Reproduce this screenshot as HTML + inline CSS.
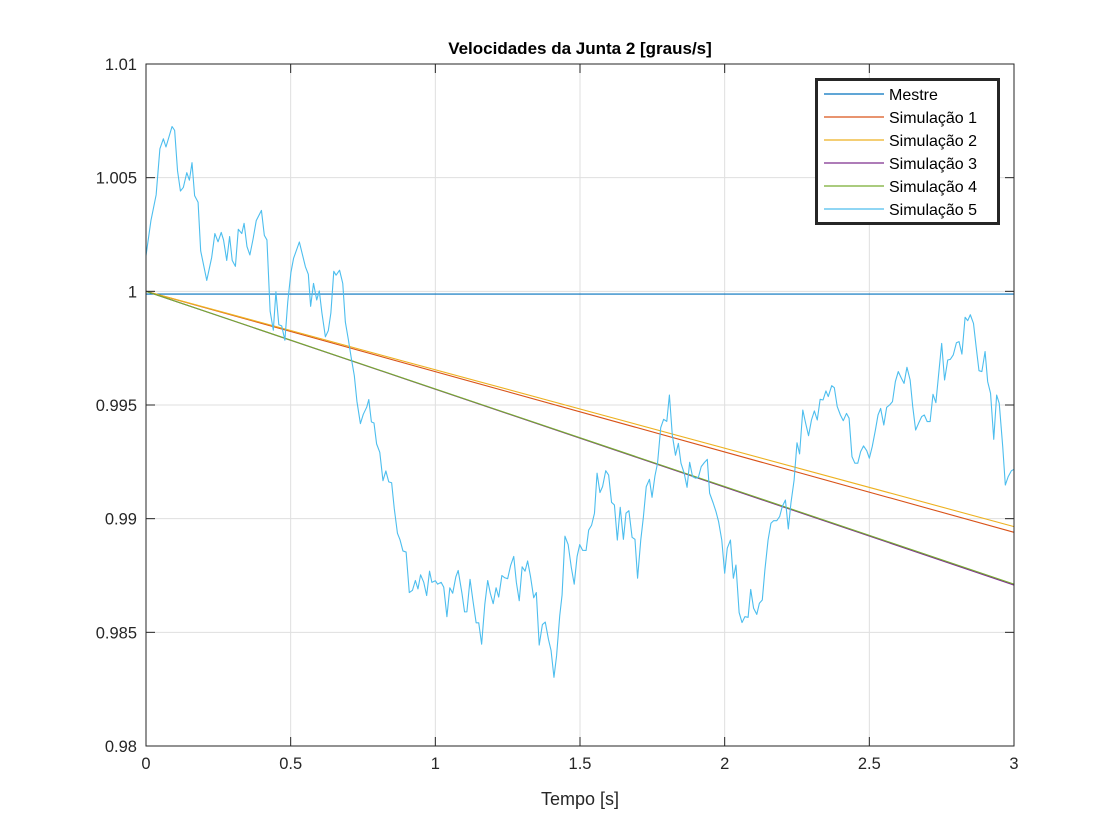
<!DOCTYPE html>
<html><head><meta charset="utf-8"><style>
html,body{margin:0;padding:0;background:#fff;}
svg{display:block;font-family:"Liberation Sans",Arial,sans-serif;}
</style></head><body>
<svg id="chart" width="1120" height="840" viewBox="0 0 1120 840" xmlns="http://www.w3.org/2000/svg">
<rect x="0" y="0" width="1120" height="840" fill="#fff"/>
<g id="grid"></g>
<g id="series"></g>
<g id="axes"></g>
<text x="580" y="54" text-anchor="middle" font-size="17" font-weight="bold" fill="#000">Velocidades da Junta 2 [graus/s]</text>
<text x="580" y="805" text-anchor="middle" font-size="18" fill="#262626">Tempo [s]</text>
<g id="legend"></g>
</svg>
<script>
const xTicks = [0, 0.5, 1, 1.5, 2, 2.5, 3];
const xTickLabels = ["0", "0.5", "1", "1.5", "2", "2.5", "3"];
const yTicks = [0.98, 0.985, 0.99, 0.995, 1, 1.005, 1.01];
const yTickLabels = ["0.98", "0.985", "0.99", "0.995", "1", "1.005", "1.01"];
const seriesNames = ["Mestre", "Simulação 1", "Simulação 2", "Simulação 3", "Simulação 4", "Simulação 5"];
const seriesColors = ["#0072BD", "#D95319", "#EDB120", "#7E2F8E", "#77AC30", "#4DBEEE"];
const lineTimes = [0, 3];
const mestreValues = [0.99988, 0.99988];
const sim1Values = [1.0, 0.9894];
const sim2Values = [1.0, 0.98965];
const sim3Values = [1.0, 0.98708];
const sim4Values = [1.0, 0.98712];
const sim5Times = [0,.017,.035,.048,.060,.069,.090,.099,.109,.119,.129,.141,.150,.159,.168,.180,.189,.210,.227,.238,.249,.260,.268,.279,.289,.298,.309,.319,.331,.339,.349,.359,.370,.381,.399,.409,.418,.429,.440,.449,.459,.469,.480,.490,.501,.510,.530,.551,.561,.569,.579,.590,.599,.608,.620,.630,.639,.649,.657,.669,.680,.689,.700,.709,.720,.729,.741,.751,.763,.770,.779,.788,.797,.808,.819,.829,.839,.849,.858,.869,.878,.888,.899,.910,.921,.931,.940,.949,.960,.970,.980,.988,1.000,1.008,1.020,1.029,1.040,1.050,1.060,1.071,1.079,1.092,1.101,1.109,1.120,1.130,1.141,1.150,1.160,1.171,1.181,1.190,1.200,1.210,1.219,1.230,1.240,1.250,1.260,1.271,1.280,1.290,1.300,1.310,1.319,1.329,1.340,1.349,1.359,1.370,1.380,1.391,1.400,1.410,1.419,1.430,1.438,1.448,1.459,1.470,1.480,1.490,1.499,1.509,1.521,1.530,1.540,1.550,1.559,1.569,1.578,1.589,1.599,1.609,1.619,1.629,1.639,1.650,1.659,1.669,1.680,1.690,1.699,1.710,1.719,1.729,1.740,1.749,1.759,1.768,1.779,1.789,1.800,1.809,1.819,1.830,1.840,1.849,1.860,1.870,1.879,1.889,1.900,1.909,1.919,1.930,1.940,1.948,1.960,1.970,1.979,1.990,2.000,2.009,2.020,2.030,2.039,2.050,2.060,2.070,2.081,2.090,2.100,2.111,2.120,2.130,2.139,2.150,2.160,2.169,2.180,2.190,2.199,2.210,2.220,2.229,2.240,2.250,2.259,2.270,2.280,2.290,2.300,2.310,2.320,2.330,2.340,2.350,2.358,2.370,2.379,2.389,2.400,2.410,2.421,2.430,2.440,2.450,2.460,2.470,2.480,2.491,2.500,2.510,2.521,2.530,2.539,2.550,2.560,2.570,2.580,2.590,2.600,2.611,2.620,2.630,2.641,2.650,2.660,2.670,2.681,2.690,2.700,2.710,2.720,2.730,2.741,2.750,2.760,2.771,2.780,2.790,2.801,2.810,2.820,2.831,2.840,2.849,2.860,2.869,2.879,2.889,2.900,2.909,2.919,2.930,2.940,2.949,2.961,2.970,2.980,2.991,3.000];
const sim5Values = [1.00157,1.00311,1.00424,1.00627,1.00671,1.00635,1.00725,1.00708,1.00530,1.00441,1.00457,1.00522,1.00489,1.00566,1.00421,1.00392,1.00178,1.00048,1.00149,1.00254,1.00218,1.00259,1.00226,1.00136,1.00241,1.00136,1.00110,1.00273,1.00254,1.00299,1.00197,1.00160,1.00230,1.00311,1.00356,1.00246,1.00226,0.99913,0.99829,0.99998,0.99853,0.99848,0.99785,0.99954,1.00084,1.00145,1.00217,1.00108,1.00075,0.99934,1.00035,0.99962,1.00002,0.99905,0.99800,0.99827,0.99905,1.00088,1.00071,1.00093,1.00035,0.99865,0.99783,0.99710,0.99629,0.99516,0.99418,0.99459,0.99491,0.99524,0.99426,0.99421,0.99329,0.99292,0.99167,0.99210,0.99162,0.99158,0.99045,0.98936,0.98907,0.98858,0.98853,0.98675,0.98685,0.98728,0.98691,0.98753,0.98720,0.98662,0.98769,0.98720,0.98727,0.98712,0.98720,0.98699,0.98569,0.98696,0.98672,0.98745,0.98772,0.98672,0.98590,0.98590,0.98733,0.98639,0.98542,0.98542,0.98448,0.98623,0.98728,0.98672,0.98626,0.98696,0.98655,0.98750,0.98740,0.98736,0.98793,0.98834,0.98720,0.98639,0.98788,0.98769,0.98814,0.98745,0.98652,0.98675,0.98444,0.98534,0.98545,0.98469,0.98420,0.98302,0.98396,0.98574,0.98664,0.98923,0.98886,0.98785,0.98712,0.98834,0.98886,0.98861,0.98860,0.98950,0.98971,0.99024,0.99200,0.99115,0.99141,0.99211,0.99192,0.99072,0.99060,0.98906,0.99050,0.98909,0.99024,0.99035,0.98918,0.98909,0.98738,0.98906,0.99006,0.99141,0.99173,0.99094,0.99188,0.99244,0.99400,0.99437,0.99428,0.99544,0.99368,0.99279,0.99331,0.99244,0.99200,0.99138,0.99248,0.99185,0.99178,0.99181,0.99229,0.99247,0.99261,0.99112,0.99070,0.99031,0.98987,0.98906,0.98760,0.98870,0.98906,0.98738,0.98796,0.98587,0.98543,0.98569,0.98566,0.98689,0.98606,0.98579,0.98628,0.98642,0.98774,0.98906,0.98980,0.98991,0.98991,0.99009,0.99053,0.99082,0.98955,0.99068,0.99170,0.99334,0.99285,0.99478,0.99419,0.99365,0.99434,0.99474,0.99434,0.99525,0.99522,0.99562,0.99537,0.99585,0.99576,0.99493,0.99456,0.99431,0.99463,0.99442,0.99273,0.99244,0.99244,0.99295,0.99320,0.99299,0.99266,0.99317,0.99390,0.99456,0.99485,0.99412,0.99490,0.99500,0.99515,0.99603,0.99647,0.99617,0.99595,0.99666,0.99610,0.99493,0.99390,0.99419,0.99449,0.99456,0.99427,0.99427,0.99547,0.99510,0.99654,0.99771,0.99610,0.99698,0.99701,0.99720,0.99774,0.99779,0.99724,0.99886,0.99871,0.99897,0.99859,0.99757,0.99651,0.99647,0.99735,0.99603,0.99551,0.99349,0.99544,0.99507,0.99317,0.99148,0.99185,0.99211,0.99217];

const NS = "http://www.w3.org/2000/svg";
const L = 146, R = 1014, T = 64, B = 746;
const xMin = 0, xMax = 3, yMin = 0.98, yMax = 1.01;
function sx(v){ return L + (v - xMin) / (xMax - xMin) * (R - L); }
function sy(v){ return B - (v - yMin) / (yMax - yMin) * (B - T); }
function mk(tag, attrs, parent){ const e = document.createElementNS(NS, tag); for (const k in attrs) e.setAttribute(k, attrs[k]); parent.appendChild(e); return e; }

const grid = document.getElementById('grid');
const axes = document.getElementById('axes');
xTicks.forEach((t, i) => {
  const x = sx(t);
  const g = mk('line', {x1:x, x2:x, y1:T, y2:B, stroke:'#dfdfdf', 'stroke-width':1}, grid);
  
  
  const tk = mk('line', {x1:x, x2:x, y1:B, y2:B-9, stroke:'#262626', 'stroke-width':1}, axes);
  
  
  const tk2 = mk('line', {x1:x, x2:x, y1:T, y2:T+9, stroke:'#262626', 'stroke-width':1}, axes);
  
  
  const lb = mk('text', {x:x, y:B+23, 'text-anchor':'middle', 'font-size':16.5, fill:'#262626'}, axes);
  lb.textContent = xTickLabels[i];
  
  
});
yTicks.forEach((v, i) => {
  const y = sy(v);
  const g = mk('line', {x1:L, x2:R, y1:y, y2:y, stroke:'#dfdfdf', 'stroke-width':1}, grid);
  
  
  const tk = mk('line', {x1:L, x2:L+9, y1:y, y2:y, stroke:'#262626', 'stroke-width':1}, axes);
  
  
  const tk2 = mk('line', {x1:R, x2:R-9, y1:y, y2:y, stroke:'#262626', 'stroke-width':1}, axes);
  
  
  const lb = mk('text', {x:L-9, y:y+6, 'text-anchor':'end', 'font-size':16.5, fill:'#262626'}, axes);
  lb.textContent = yTickLabels[i];
  
  
});
const box = mk('rect', {x:L, y:T, width:R-L, height:B-T, fill:'none', stroke:'#262626', 'stroke-width':1}, axes);



const seriesG = document.getElementById('series');
const allSeries = [
  [lineTimes, mestreValues], [lineTimes, sim1Values], [lineTimes, sim2Values],
  [lineTimes, sim3Values], [lineTimes, sim4Values], [sim5Times, sim5Values]
];
[0, 1, 2, 3, 4, 5].forEach(i => {
  const ts = allSeries[i][0], vs = allSeries[i][1];
  const pts = ts.map((t, j) => sx(t).toFixed(2) + ',' + sy(vs[j]).toFixed(2)).join(' ');
  const pl = mk('polyline', {points:pts, fill:'none', stroke:seriesColors[i], 'stroke-width':1.1, 'stroke-linejoin':'round'}, seriesG);
  
  
});

const leg = document.getElementById('legend');
const lb = mk('rect', {x:816.5, y:79.5, width:182, height:144, fill:'#fff', stroke:'#262626', 'stroke-width':3}, leg);


seriesNames.forEach((n, i) => {
  const y = 94 + i * 23;
  const ln = mk('line', {x1:824, x2:884, y1:y, y2:y, stroke:seriesColors[i], 'stroke-width':1.2}, leg);
  
  
  const tx = mk('text', {x:889, y:y+6, 'font-size':16, fill:'#000'}, leg);
  tx.textContent = n;
  
  
});
</script>
</body></html>
